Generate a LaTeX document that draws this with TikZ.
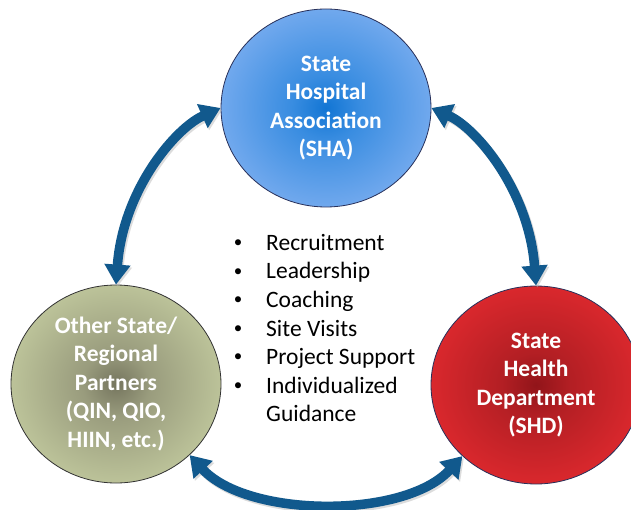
\documentclass[tikz,border=0pt]{standalone}
\usepackage{fontspec}
\setmainfont{Carlito}
\usetikzlibrary{shapes.geometric,arrows.meta}
\definecolor{arrowblue}{RGB}{17,89,141}
\definecolor{rim}{RGB}{40,48,90}
\pgfdeclareradialshading{blueball}{\pgfpoint{0bp}{0bp}}{rgb(0bp)=(0.07,0.46,0.83); rgb(8bp)=(0.22,0.55,0.88); rgb(28bp)=(0.48,0.68,0.94); rgb(50bp)=(0.50,0.70,0.95)}
\pgfdeclareradialshading{redball}{\pgfpoint{0bp}{0bp}}{rgb(0bp)=(0.57,0.08,0.10); rgb(8bp)=(0.70,0.12,0.14); rgb(27bp)=(0.87,0.16,0.18); rgb(50bp)=(0.89,0.17,0.19)}
\pgfdeclareradialshading{oliveball}{\pgfpoint{0bp}{0bp}}{rgb(0bp)=(0.46,0.46,0.37); rgb(8bp)=(0.60,0.61,0.49); rgb(28bp)=(0.76,0.79,0.62); rgb(50bp)=(0.78,0.81,0.63)}
\begin{document}
\begin{tikzpicture}[x=1pt,y=-1pt,
  ball/.style={ellipse, minimum width=210pt, minimum height=198pt, inner sep=0pt,
    draw=rim, line width=0.8pt, align=center, text=white,
    font=\fontsize{23.5pt}{28.5pt}\selectfont\bfseries},
  link/.style={draw=arrowblue, line width=9.5pt,
    {Triangle[width=25pt,length=20pt]}-{Triangle[width=25pt,length=20pt]}},
  linkshadow/.style={draw=black!30, opacity=0.45, line width=9.5pt,
    {Triangle[width=25pt,length=20pt]}-{Triangle[width=25pt,length=20pt]}},
  listtext/.style={anchor=base west, inner sep=0pt, font=\fontsize{23.5pt}{28.5pt}\selectfont},
  bullettext/.style={anchor=center, inner sep=0pt, font=\fontsize{17pt}{20pt}\selectfont}]
\useasboundingbox (0,0) rectangle (631,510);
\clip (0,0) rectangle (631,510);
\fill[white] (0,0) rectangle (631,510);

\node[ball, shading=blueball] (T) at (326,108) {State\\Hospital\\Association\\(SHA)};
\node[ball, shading=oliveball, draw=black!80] (L) at (116,384) {Other State/\\Regional\\Partners\\(QIN, QIO,\\HIIN, etc.)};
\node[ball, shading=redball] (R) at (536,385) {State\\Health\\Department\\(SHD)};

\begin{scope}[transform canvas={xshift=1.5pt,yshift=-2pt}]
\path[linkshadow] (L.north) .. controls +(7,-95) and +(-45,20) .. (T.west);
\path[linkshadow] (R.north) .. controls +(-7,-95) and +(45,20) .. (T.east);
\path[linkshadow] (L.-44) .. controls +(58,63) and +(-58,63) .. (R.-136);
\end{scope}
\path[link] (L.north) .. controls +(7,-95) and +(-45,20) .. (T.west);
\path[link] (R.north) .. controls +(-7,-95) and +(45,20) .. (T.east);
\path[link] (L.-44) .. controls +(58,63) and +(-58,63) .. (R.-136);

\foreach \t [count=\i from 0] in {Recruitment,Leadership,Coaching,Site Visits,Project Support,Individualized} {
  \node[bullettext] (b\i) at (238,244+28.5*\i) {\textbullet};
  \node[listtext] (i\i) at (266,250.5+28.5*\i) {\t};
}
\node[listtext] (i6) at (266,250.5+28.5*6) {Guidance};
\end{tikzpicture}
\end{document}
